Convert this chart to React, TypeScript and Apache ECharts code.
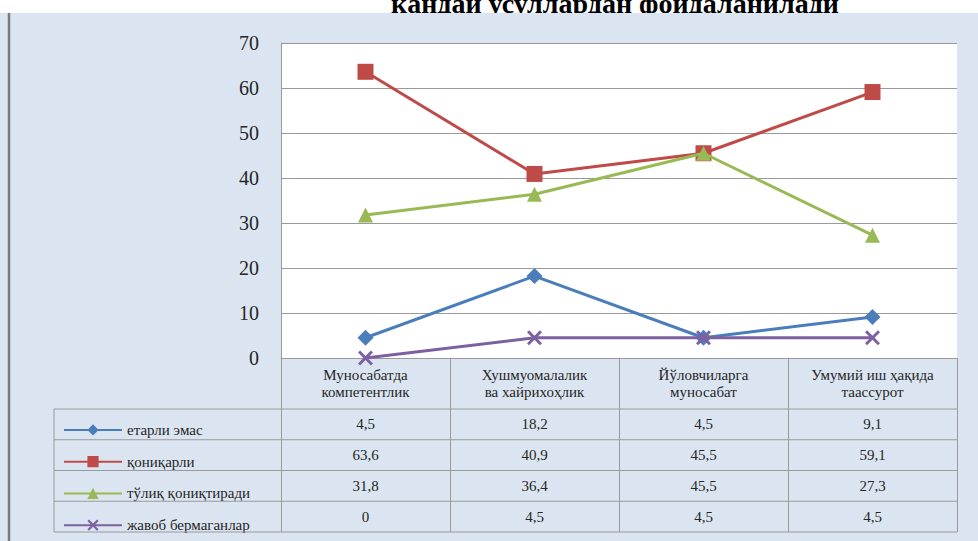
import React, { useEffect, useRef } from "react";
import * as echarts from "echarts";

const categories = [
  "Муносабатда\nкомпетентлик",
  "Хушмуомалалик\nва хайрихоҳлик",
  "Йўловчиларга\nмуносабат",
  "Умумий иш ҳақида\nтаассурот",
];
const seriesNames = ["етарли эмас", "қониқарли", "тўлиқ қониқтиради", "жавоб бермаганлар"];
const etarliEmas = [4.5, 18.2, 4.5, 9.1];
const qoniqarli = [63.6, 40.9, 45.5, 59.1];
const toliqQoniqtiradi = [31.8, 36.4, 45.5, 27.3];
const javobBermaganlar = [0, 4.5, 4.5, 4.5];
const yTicks = { min: 0, max: 70, interval: 10 };
const titleText = "қандай усуллардан фойдаланилади";

const seriesValues = [etarliEmas, qoniqarli, toliqQoniqtiradi, javobBermaganlar];
const colors = ["#4a7ebb", "#be4b48", "#98b954", "#7d60a0"];
const symbols = [
  "diamond",
  "rect",
  "triangle",
  "path://M0,1.4 L1.4,0 L5,3.6 L8.6,0 L10,1.4 L6.4,5 L10,8.6 L8.6,10 L5,6.4 L1.4,10 L0,8.6 L3.6,5 Z",
];
const symbolSizes = [16, 16, 15, 15];

export default function App() {
  const ref = useRef<HTMLDivElement>(null);
  useEffect(() => {
    if (!ref.current) return;
    const chart = echarts.init(ref.current, null, { renderer: "svg" });
    const W = 978, H = 541;
    const gridLeft = 281, gridTop = 43, gridRight = 21, plotBottom = 358;
    const headerBottom = 409, rowH = 30.75;
    const tableLeft = 54, tableRight = W - gridRight;
    const rowLines = [0, 1, 2, 3, 4].map((k) => headerBottom + k * rowH);
    const textColor = "#262626";
    const font = "Liberation Serif";
    const gridColor = "#9a9a9a";

    const valueAxes = seriesValues.map((vals, k) => ({
      type: "category",
      gridIndex: 0,
      position: "bottom",
      data: vals.map((v) => String(v).replace(".", ",")),
      offset: headerBottom + (k + 0.5) * rowH - plotBottom,
      axisLine: { show: false },
      axisTick: { show: false },
      splitLine: { show: false },
      axisLabel: {
        interval: 0,
        margin: 0,
        verticalAlign: "middle",
        fontFamily: font,
        fontSize: 15,
        color: textColor,
      },
    }));

    const graphics: any[] = [
      {
        type: "text",
        z: -2,
        style: {
          text: titleText,
          x: 615,
          y: 17,
          textAlign: "center",
          textVerticalAlign: "bottom",
          font: "bold 28px 'Liberation Serif'",
          fill: "#000",
        },
      },
      {
        type: "rect",
        z: -1,
        shape: { x: 0, y: 13, width: W, height: H - 13 },
        style: { fill: "#dbe5f1" },
      },
      {
        type: "line",
        z: 5,
        shape: { x1: 9, y1: 13, x2: 9, y2: H },
        style: { stroke: "#7a7a7a", lineWidth: 2.5 },
      },
      {
        type: "line",
        z: 5,
        shape: { x1: tableLeft, y1: rowLines[0], x2: tableLeft, y2: rowLines[4] },
        style: { stroke: gridColor, lineWidth: 1 },
      },
      ...rowLines.map((y) => ({
        type: "line",
        z: 5,
        shape: { x1: tableLeft, y1: y, x2: tableRight, y2: y },
        style: { stroke: gridColor, lineWidth: 1 },
      })),
    ];

    chart.setOption({
      animation: false,
      backgroundColor: "#ffffff",
      grid: {
        left: gridLeft,
        top: gridTop,
        right: gridRight,
        bottom: H - plotBottom,
        show: true,
        backgroundColor: "#ffffff",
        borderWidth: 0,
      },
      legend: {
        orient: "vertical",
        left: 58,
        top: headerBottom + (rowH - 14) / 2,
        itemWidth: 58,
        itemHeight: 14,
        itemGap: rowH - 14,
        data: seriesNames,
        textStyle: { fontFamily: font, fontSize: 15, color: textColor },
      },
      xAxis: [
        {
          type: "category",
          data: categories,
          boundaryGap: true,
          axisLine: { show: true, lineStyle: { color: gridColor, width: 1 } },
          axisTick: {
            show: true,
            interval: 0,
            length: rowLines[4] - plotBottom,
            lineStyle: { color: gridColor, width: 1 },
          },
          axisLabel: {
            interval: 0,
            margin: (headerBottom - plotBottom) / 2,
            verticalAlign: "middle",
            lineHeight: 17,
            fontFamily: font,
            fontSize: 15,
            color: textColor,
          },
        },
        ...valueAxes,
      ],
      yAxis: {
        type: "value",
        min: yTicks.min,
        max: yTicks.max,
        interval: yTicks.interval,
        axisLine: { show: true, lineStyle: { color: gridColor, width: 1 } },
        axisTick: { show: false },
        splitLine: { show: true, lineStyle: { color: gridColor, width: 1 } },
        axisLabel: { margin: 22, fontFamily: font, fontSize: 20, color: textColor },
      },
      series: seriesNames.map((name, i) => ({
        name,
        type: "line",
        xAxisIndex: 0,
        data: seriesValues[i],
        symbol: symbols[i],
        symbolSize: symbolSizes[i],
        showAllSymbol: true,
        lineStyle: { color: colors[i], width: 3 },
        itemStyle: { color: colors[i] },
        z: 3 + i,
      })),
      graphic: graphics,
    });
    return () => chart.dispose();
  }, []);
  return (
    <div
      ref={ref}
      style={{ position: "fixed", left: 0, top: 0, width: 978, height: 541 }}
    />
  );
}
